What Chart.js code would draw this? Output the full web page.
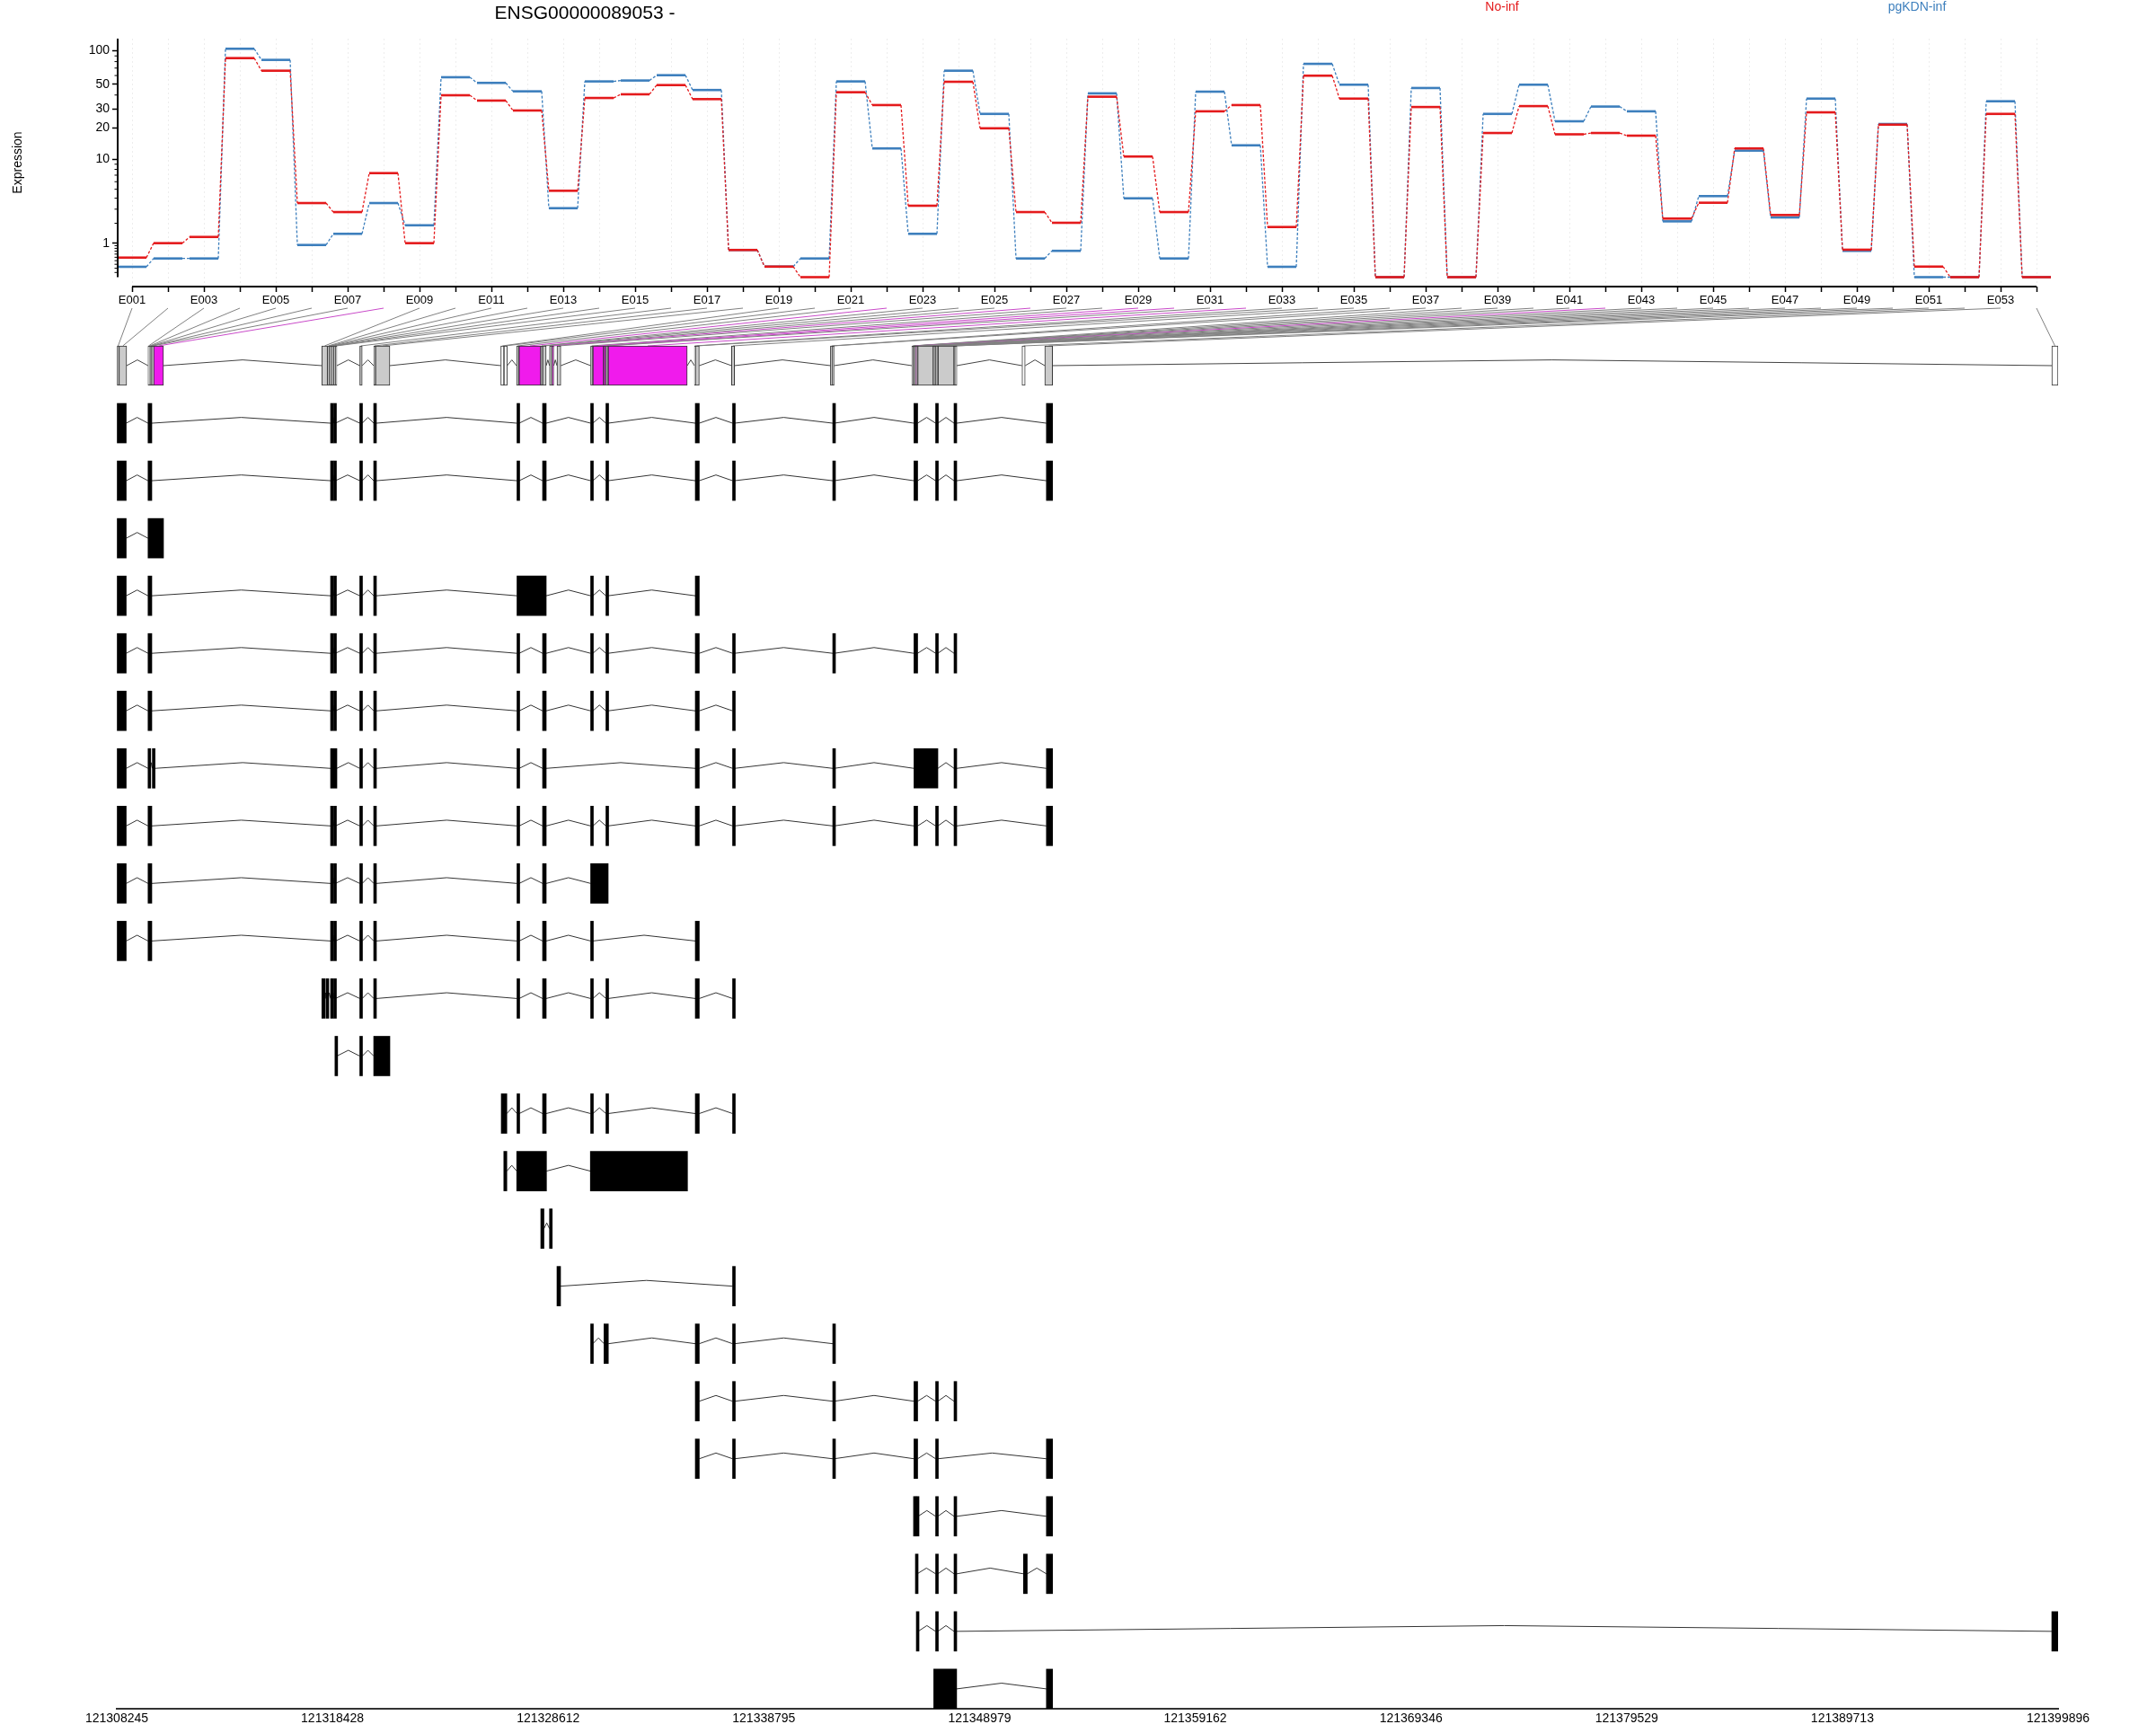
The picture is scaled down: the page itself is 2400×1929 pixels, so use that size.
<!DOCTYPE html>
<html>
<head>
<meta charset="utf-8">
<script src="https://cdn.jsdelivr.net/npm/chart.js@4/dist/chart.umd.min.js"></script>
<style>
  body { margin: 0; background: #fff; }
  #wrap { position: relative; width: 2400px; height: 1929px; }
  #expr { position: absolute; left: 0; top: 0; }
  #model { position: absolute; left: 0; top: 340px; }
</style>
</head>
<body>
<div id="wrap">
  <canvas id="expr" width="2400" height="340"></canvas>
  <canvas id="model" width="2400" height="1589"></canvas>
</div>
<script>
// exon bins of ENSG00000089053
const exonLabels = ['E001','E002','E003','E004','E005','E006','E007','E008','E009','E010',
  'E011','E012','E013','E014','E015','E016','E017','E018','E019','E020',
  'E021','E022','E023','E024','E025','E026','E027','E028','E029','E030',
  'E031','E032','E033','E034','E035','E036','E037','E038','E039','E040',
  'E041','E042','E043','E044','E045','E046','E047','E048','E049','E050',
  'E051','E052','E053','E054'];

// expression per bin
const noInf = [0.49, 1.0, 1.27, 86.0, 66.3, 3.53, 2.77, 7.34, 1.0, 39.8,
  35.6, 28.9, 4.82, 37.6, 40.6, 49.2, 36.7, 0.74, 0.24, 0,
  42.4, 32.4, 3.29, 52.7, 19.8, 2.77, 2.03, 38.6, 10.7, 2.77,
  28.4, 32.4, 1.78, 59.8, 37.1, 0, 31.1, 0, 17.9, 31.7,
  17.4, 17.9, 16.9, 2.30, 3.56, 12.8, 2.55, 27.8, 0.75, 21.4,
  0.24, 0, 26.9, 0];
const pgKDN = [0.235, 0.464, 0.464, 104.3, 82.9, 0.927, 1.42, 3.53, 1.88, 57.9,
  51.5, 43.2, 3.08, 53.1, 54.1, 60.4, 44.4, 0.74, 0.24, 0.464,
  53.1, 12.8, 1.42, 66.3, 26.9, 0.464, 0.71, 41.4, 3.99, 0.464,
  42.9, 13.7, 0.235, 76.4, 49.6, 0, 46.3, 0, 26.9, 49.6,
  23.0, 31.4, 28.4, 2.12, 4.22, 12.2, 2.38, 37.1, 0.71, 21.7,
  0, 0, 35.1, 0];

const yMajor = [1, 10, 20, 30, 50, 100];
const yMinor = [0.1, 0.2, 0.3, 0.4, 0.5, 0.6, 0.7, 0.8, 0.9, 2, 3, 4, 5, 6, 7, 8, 9, 40, 60, 70, 80, 90];

// genomic coordinates of the bins
const binStart = [121308266, 121308351, 121309721, 121309780, 121309831, 121309882, 121309933, 121309984,
  121317923, 121318195, 121318275, 121318339, 121318424, 121318487, 121318568, 121319717, 121320375, 121320460,
  121326376, 121326525, 121327118, 121327233, 121328263, 121328348, 121328675, 121328794, 121329027,
  121330617, 121330723, 121331232, 121331338, 121331444, 121335516, 121335558, 121337267, 121341937, 121342047,
  121345780, 121345860, 121345881, 121345945, 121345971, 121345992, 121346060, 121346794, 121346828, 121346866,
  121346904, 121347018, 121347773, 121347866, 121350983, 121352056, 121399600];
const binEnd = [121308351, 121308712, 121309780, 121309831, 121309882, 121309933, 121309984, 121310450,
  121318195, 121318275, 121318339, 121318424, 121318487, 121318568, 121318636, 121319832, 121320460, 121321138,
  121326525, 121326677, 121327233, 121328263, 121328348, 121328518, 121328794, 121328874, 121329209,
  121330723, 121331232, 121331338, 121331444, 121335177, 121335558, 121335745, 121337412, 121342047, 121342111,
  121345860, 121345881, 121345945, 121345971, 121345992, 121346060, 121346794, 121346828, 121346866, 121346904,
  121347018, 121347773, 121347866, 121347900, 121351132, 121352425, 121399896];
const sigBins = [8, 22, 26, 29, 30, 32, 42];
const lowBins = [19, 20, 52, 54];

const axisTicks = [121308245, 121318428, 121328612, 121338795, 121348979, 121359162, 121369346, 121379529, 121389713, 121399896];

// shared exons of the transcripts
const x1 = [121308266, 121308690], x2 = [121309721, 121309899];
const x3a = [121318339, 121318424], x3b = [121318487, 121318568];
const x4 = [121319717, 121319832], x5 = [121320375, 121320502];
const x6 = [121327139, 121327245], x7 = [121328348, 121328518];
const x8 = [121330617, 121330723], x9 = [121331338, 121331444];
const x10 = [121335558, 121335745], x11 = [121337318, 121337412];
const x12 = [121342047, 121342111], x13 = [121345881, 121346055];
const x14 = [121346904, 121347010], x15 = [121347773, 121347900];
const x16 = [121352133, 121352425];

const transcripts = [
  [x1, x2, x3a, x3b, x4, x5, x6, x7, x8, x9, x10, x11, x12, x13, x14, x15, x16],
  [x1, x2, x3a, x3b, x4, x5, x6, x7, x8, x9, x10, x11, x12, x13, x14, x15, x16],
  [x1, [121309721, 121310450]],
  [x1, x2, x3a, x3b, x4, x5, [121327139, 121328518], x8, x9, x10],
  [x1, x2, x3a, x3b, x4, x5, x6, x7, x8, x9, x10, x11, x12, x13, x14, x15],
  [x1, x2, x3a, x3b, x4, x5, x6, x7, x8, x9, x10, x11],
  [x1, [121309721, 121309836], [121309925, 121310039], [121318339, 121318636], x4, x5, x6, x7, x10, x11, x12, [121345881, 121347010], x15, x16],
  [x1, x2, x3a, x3b, x4, x5, x6, x7, x8, x9, x10, x11, x12, x13, x14, x15, x16],
  [x1, x2, x3a, x3b, x4, x5, x6, x7, [121330617, 121331444]],
  [x1, x2, x3a, x3b, x4, x5, x6, x7, x8, x10],
  [[121317927, 121318084], [121318127, 121318221], x3a, x3b, x4, x5, x6, x7, x8, x9, x10, x11],
  [[121318545, 121318636], x4, [121320375, 121321138]],
  [[121326397, 121326660], x6, x7, x8, x9, x10, x11],
  [[121326517, 121326660], [121327127, 121328531], [121330604, 121335189]],
  [[121328263, 121328412], [121328675, 121328794]],
  [[121329027, 121329196], x11],
  [x8, [121331245, 121331452], x10, x11, x12],
  [x10, x11, x12, x13, x14, x15],
  [x10, x11, x12, x13, x14, x16],
  [[121345860, 121345945], [121345992, 121346077], x14, x15, x16],
  [[121345949, 121346034], x14, x15, [121351051, 121351229], x16],
  [[121345992, 121346077], x14, x15, [121399600, 121399896]],
  [[121346814, 121347896], x16]
];

const RED = '#e41a1c';
const BLUE = '#3d7fbd';
const FONT = "'Liberation Sans', Arial, sans-serif";

function stepPoints(vals) {
  const pts = [];
  vals.forEach((v, i) => {
    const L = Math.log10(v + 1);
    pts.push({x: i + 1 - 0.4, y: L}, {x: i + 1 + 0.4, y: L});
  });
  return pts;
}

const stepSegment = {
  borderDash: ctx => ctx.p0DataIndex % 2 === 1 ? [3, 2] : undefined,
  borderWidth: ctx => ctx.p0DataIndex % 2 === 1 ? 1.3 : 2.6
};

const exprDecor = {
  id: 'exprDecor',
  afterDraw(chart) {
    const {ctx, chartArea, scales} = chart;
    const xs = scales.x, ys = scales.y;
    ctx.save();
    ctx.strokeStyle = '#000';
    ctx.lineWidth = 2;
    ctx.beginPath();
    ctx.moveTo(xs.getPixelForValue(1), chartArea.bottom);
    ctx.lineTo(xs.getPixelForValue(54), chartArea.bottom);
    ctx.moveTo(chartArea.left, chartArea.top);
    ctx.lineTo(chartArea.left, ys.getPixelForValue(0));
    ctx.stroke();
    ctx.lineWidth = 1;
    ctx.beginPath();
    yMinor.forEach(v => {
      const y = ys.getPixelForValue(Math.log10(v + 1));
      ctx.moveTo(chartArea.left - 3.5, y);
      ctx.lineTo(chartArea.left, y);
    });
    ctx.stroke();

    ctx.textAlign = 'center';
    ctx.textBaseline = 'middle';
    ctx.fillStyle = '#000';
    ctx.font = '21px ' + FONT;
    ctx.fillText('ENSG00000089053 -', 651, 15);
    ctx.font = '14px ' + FONT;
    ctx.fillStyle = RED;
    ctx.fillText('No-inf', 1672, 8);
    ctx.fillStyle = BLUE;
    ctx.fillText('pgKDN-inf', 2134, 8);
    ctx.restore();
  }
};

const exprChart = new Chart(document.getElementById('expr'), {
  type: 'line',
  data: {
    datasets: [
      {label: 'No-inf', data: stepPoints(noInf), borderColor: RED, borderWidth: 2.6,
       pointRadius: 0, fill: false, tension: 0, segment: stepSegment},
      {label: 'pgKDN-inf', data: stepPoints(pgKDN), borderColor: BLUE, borderWidth: 2.6,
       pointRadius: 0, fill: false, tension: 0, segment: stepSegment}
    ]
  },
  options: {
    responsive: false,
    animation: false,
    devicePixelRatio: 1,
    events: [],
    layout: {padding: {top: 43, right: 117, left: 0, bottom: 0}},
    plugins: {legend: {display: false}, tooltip: {enabled: false}},
    scales: {
      x: {
        type: 'linear', min: 0.6, max: 54.4,
        afterFit: s => { s.height = 21; },
        afterBuildTicks: s => { s.ticks = exonLabels.map((_, i) => ({value: i + 1})); },
        ticks: {
          autoSkip: false, maxRotation: 0, padding: 2, color: '#000',
          font: {family: FONT, size: 13},
          callback: (v, i) => i % 2 === 0 ? exonLabels[i] : ''
        },
        grid: {color: 'rgba(0,0,0,0.07)', lineWidth: 1, tickColor: '#000', tickLength: 6,
               tickWidth: 1.5, tickBorderDash: []},
        border: {display: false, dash: [2, 3]}
      },
      y: {
        type: 'linear', min: -0.0835, max: 2.112,
        afterFit: s => { s.width = 131; },
        afterBuildTicks: s => { s.ticks = yMajor.map(v => ({value: Math.log10(v + 1)})); },
        ticks: {
          color: '#000', padding: 3, font: {family: FONT, size: 14},
          callback: (v, i) => String(yMajor[i])
        },
        grid: {drawOnChartArea: false, tickLength: 6, tickColor: '#000', tickWidth: 1.5},
        border: {display: false},
        title: {display: true, text: 'Expression', color: '#000',
                font: {family: FONT, size: 14}, padding: {top: 12, bottom: 0}}
      }
    }
  },
  plugins: [exprDecor]
});

// ---- gene model and transcripts ----
function chevrons(exons, row) {
  const pts = [];
  for (let k = 0; k < exons.length - 1; k++) {
    const a = exons[k][1], b = exons[k + 1][0];
    if (b <= a) continue;
    pts.push({x: a, y: row}, {x: (a + b) / 2, y: row - 0.1}, {x: b, y: row}, {x: b, y: null});
  }
  return pts;
}

const geneBins = binStart.map((s, i) => [s, binEnd[i]]);
const geneBars = geneBins.map(b => ({x: b, y: 0}));
const binFill = geneBins.map((_, i) =>
  sigBins.includes(i + 1) ? '#f01bec' : (lowBins.includes(i + 1) ? '#ffffff' : '#cbcbcb'));
const exonBars = [];
transcripts.forEach((t, r) => t.forEach(e => exonBars.push({x: e, y: r + 1})));
const intronPts = [];
transcripts.forEach((t, r) => intronPts.push(...chevrons(t, r + 1)));

const connectors = {
  id: 'connectors',
  beforeDatasetsDraw(chart) {
    const {ctx, scales} = chart;
    const xa = exprChart.scales.x;
    const yBot = scales.y.getPixelForValue(0) - 22;
    ctx.save();
    ctx.lineWidth = 1;
    geneBins.forEach((b, i) => {
      ctx.strokeStyle = sigBins.includes(i + 1) ? '#c94ac9' : '#808080';
      ctx.beginPath();
      ctx.moveTo(xa.getPixelForValue(i + 1), 3);
      ctx.lineTo(scales.x.getPixelForValue((b[0] + b[1]) / 2), yBot);
      ctx.stroke();
    });
    ctx.restore();
  }
};

new Chart(document.getElementById('model'), {
  type: 'bar',
  data: {
    datasets: [
      {type: 'bar', indexAxis: 'y', data: geneBars, backgroundColor: binFill,
       borderColor: '#333', borderWidth: 1, borderSkipped: false,
       barThickness: 44, grouped: false, minBarLength: 1},
      {type: 'bar', indexAxis: 'y', data: exonBars, backgroundColor: '#000',
       borderWidth: 0, barThickness: 44, grouped: false, minBarLength: 3},
      {type: 'line', data: chevrons(geneBins, 0), borderColor: '#444', borderWidth: 1,
       pointRadius: 0, spanGaps: false, fill: false, tension: 0},
      {type: 'line', data: intronPts, borderColor: '#333', borderWidth: 1,
       pointRadius: 0, spanGaps: false, fill: false, tension: 0}
    ]
  },
  options: {
    responsive: false,
    animation: false,
    devicePixelRatio: 1,
    events: [],
    layout: {padding: {top: 0, left: 130, right: 109, bottom: 0}},
    plugins: {legend: {display: false}, tooltip: {enabled: false}},
    scales: {
      x: {
        type: 'linear', min: 121308245, max: 121399896, offset: false,
        afterFit: s => { s.height = 27; },
        afterBuildTicks: s => { s.ticks = axisTicks.map(v => ({value: v})); },
        ticks: {autoSkip: false, maxRotation: 0, padding: 3, color: '#000',
                font: {family: FONT, size: 14},
                callback: (v, i) => String(axisTicks[i])},
        grid: {display: false, drawTicks: false, offset: false},
        border: {display: true, color: '#333', width: 2}
      },
      y: {
        type: 'linear', display: false, reverse: true, offset: false,
        min: -1.0462, max: 23.345, grid: {offset: false}
      }
    }
  },
  plugins: [connectors]
});
</script>
</body>
</html>
